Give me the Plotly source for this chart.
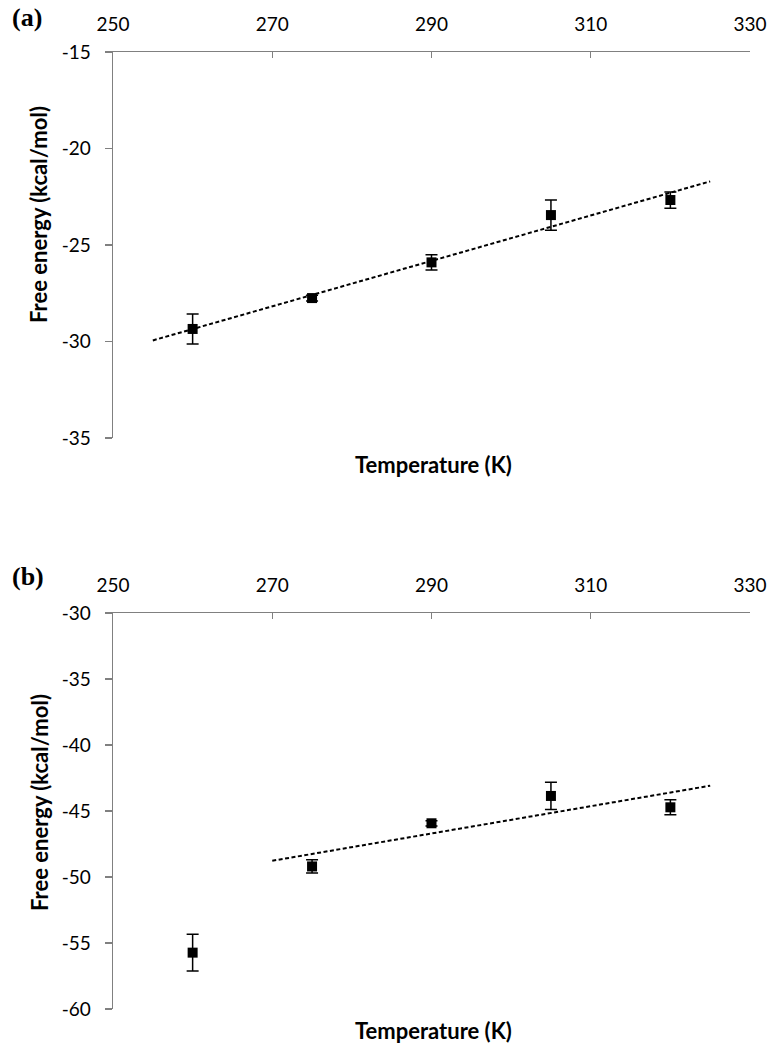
import numpy as np
import plotly.graph_objects as go

# Data
temperature = [260, 275, 290, 305, 320]
energy_a = [-29.35, -27.75, -25.9, -23.45, -22.67]
err_a = [0.78, 0.15, 0.4, 0.78, 0.42]
energy_b = [-55.73, -49.2, -45.93, -43.86, -44.72]
err_b = [1.4, 0.5, 0.2, 1.03, 0.57]
x_ticks = [250, 270, 290, 310, 330]
y_ticks_a = [-35, -30, -25, -20, -15]
y_ticks_b = [-60, -55, -50, -45, -40, -35, -30]

# Linear trendlines (Excel style, extended by 5 K)
ca = np.polyfit(temperature, energy_a, 1)
trend_a_x = [temperature[0] - 5, temperature[-1] + 5]
trend_a_y = list(np.polyval(ca, trend_a_x))
cb = np.polyfit(temperature[1:], energy_b[1:], 1)
trend_b_x = [temperature[1] - 5, temperature[-1] + 5]
trend_b_y = list(np.polyval(cb, trend_b_x))

W, H = 771, 1050


def px(sx):
    return sx / W


def py(sy):
    return 1 - sy / H


fig = go.Figure()

marker = dict(symbol="square", size=10, color="black")
errstyle = dict(type="data", visible=True, color="black", thickness=1.5, width=6)
dashline = dict(color="black", width=2, dash="4px,2.5px")

fig.add_trace(go.Scatter(x=trend_a_x, y=trend_a_y, mode="lines", line=dashline,
                         xaxis="x", yaxis="y", showlegend=False))
fig.add_trace(go.Scatter(x=temperature, y=energy_a, mode="markers", marker=marker,
                         error_y=dict(array=err_a, **errstyle),
                         xaxis="x", yaxis="y", showlegend=False))
fig.add_trace(go.Scatter(x=trend_b_x, y=trend_b_y, mode="lines", line=dashline,
                         xaxis="x2", yaxis="y2", showlegend=False))
fig.add_trace(go.Scatter(x=temperature, y=energy_b, mode="markers", marker=marker,
                         error_y=dict(array=err_b, **errstyle),
                         xaxis="x2", yaxis="y2", showlegend=False))

tickfont = dict(family="Lato, Carlito, sans-serif", size=19, color="black")
xd = [px(113), px(750)]
ya_dom = [py(438), py(52)]
yb_dom = [py(1009), py(613)]

xcommon = dict(range=[250, 330], tickvals=x_ticks, ticktext=[str(v) for v in x_ticks],
               side="top", ticks="inside", ticklen=6, tickcolor="#808080", tickwidth=1.3,
               showline=True, linecolor="#808080", linewidth=1.3, showgrid=False,
               zeroline=False, tickfont=tickfont, domain=xd, automargin=False,
               ticklabelstandoff=12)
ycommon = dict(ticks="outside", ticklen=7, tickcolor="#808080", tickwidth=1.3, showline=True,
               linecolor="#808080", linewidth=1.3, showgrid=False, zeroline=False,
               tickfont=tickfont, automargin=False, ticklabelstandoff=10)

fig.update_layout(
    template="none",
    width=W, height=H,
    margin=dict(l=0, r=0, t=0, b=0, autoexpand=False),
    plot_bgcolor="white", paper_bgcolor="white",
    showlegend=False,
    xaxis=dict(anchor="y", **xcommon),
    yaxis=dict(anchor="x", domain=ya_dom, range=[-35, -15], tickvals=y_ticks_a,
               ticktext=[str(v) for v in y_ticks_a], **ycommon),
    xaxis2=dict(anchor="y2", **xcommon),
    yaxis2=dict(anchor="x2", domain=yb_dom, range=[-60, -30], tickvals=y_ticks_b,
                ticktext=[str(v) for v in y_ticks_b], **ycommon),
)

titlefont = dict(family="Lato, Carlito, sans-serif", size=22, color="black", weight="bold")
panelfont = dict(family="Liberation Serif, Times New Roman, serif", size=26, color="black", weight="bold")
ann = [
    dict(text="(a)", x=px(10), y=py(17), showarrow=False, xref="paper", yref="paper",
         xanchor="left", yanchor="middle", font=panelfont),
    dict(text="(b)", x=px(10), y=py(576), showarrow=False, xref="paper", yref="paper",
         xanchor="left", yanchor="middle", font=panelfont),
    dict(text="Temperature (K)", x=px(433), y=py(464), showarrow=False, xref="paper",
         yref="paper", xanchor="center", yanchor="middle", font=titlefont),
    dict(text="Temperature (K)", x=px(433), y=py(1030), showarrow=False, xref="paper",
         yref="paper", xanchor="center", yanchor="middle", font=titlefont),
    dict(text="Free energy (kcal/mol)", x=px(39), y=py(215), showarrow=False,
         xref="paper", yref="paper", xanchor="center", yanchor="middle",
         textangle=-90, font=titlefont),
    dict(text="Free energy (kcal/mol)", x=px(39), y=py(803), showarrow=False,
         xref="paper", yref="paper", xanchor="center", yanchor="middle",
         textangle=-90, font=titlefont),
]
fig.update_layout(annotations=ann)

fig.write_html("out.html",
               config={"displayModeBar": False, "staticPlot": True},
               post_script="document.body.style.margin='0';document.body.style.overflow='hidden';")
